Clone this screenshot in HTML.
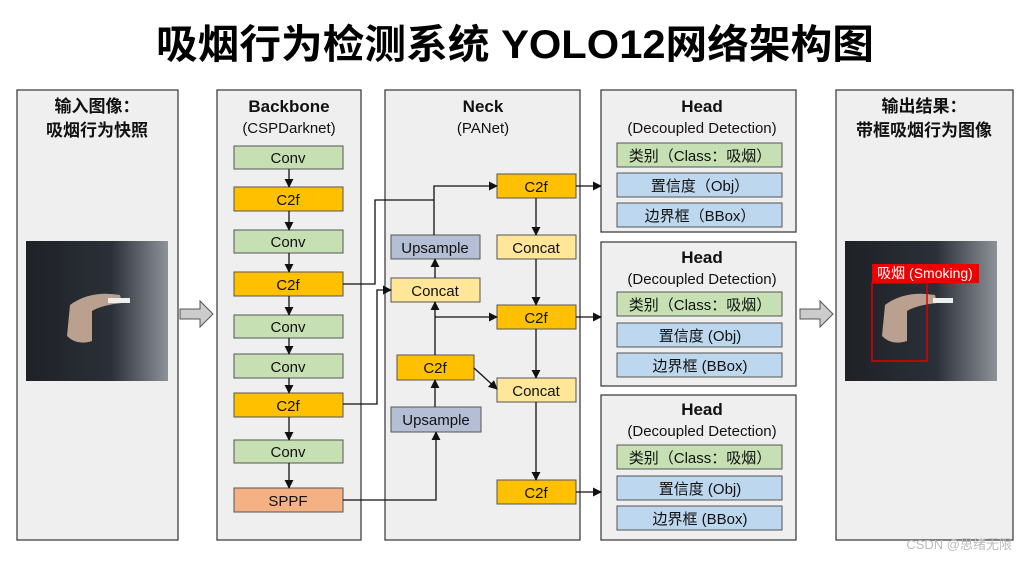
<!DOCTYPE html>
<html><head><meta charset="utf-8"><style>
body{margin:0;background:#fff;}
svg text{font-family:"Liberation Sans","Noto Sans CJK SC",sans-serif;}
</style></head><body>
<svg width="1024" height="559" viewBox="0 0 1024 559" xmlns="http://www.w3.org/2000/svg">
<defs>
<marker id="a" viewBox="0 0 10 10" refX="9" refY="5" markerWidth="7" markerHeight="7" orient="auto"><path d="M0,0 L10,5 L0,10 z" fill="#111"/></marker>
<linearGradient id="bg1" x1="0" x2="1"><stop offset="0" stop-color="#1e2126"/><stop offset="0.6" stop-color="#2b3038"/><stop offset="1" stop-color="#8d9299"/></linearGradient>
</defs>
<rect width="1024" height="559" fill="#fff"/>
<text x="515" y="58" font-size="40" font-weight="bold" text-anchor="middle" textLength="718" lengthAdjust="spacingAndGlyphs" fill="#000">吸烟行为检测系统 YOLO12网络架构图</text>

<g fill="#efefef" stroke="#333" stroke-width="1.2">
<rect x="17" y="90" width="161" height="450"/>
<rect x="217" y="90" width="144" height="450"/>
<rect x="385" y="90" width="195" height="450"/>
<rect x="601" y="90" width="195" height="142"/>
<rect x="601" y="242" width="195" height="144"/>
<rect x="601" y="395" width="195" height="145"/>
<rect x="836" y="90" width="177" height="450"/>
</g>

<g font-weight="bold" font-size="17" text-anchor="middle" fill="#111">
<text x="97" y="112">输入图像：</text>
<text x="97" y="136">吸烟行为快照</text>
<text x="289" y="112">Backbone</text>
<text x="483" y="112">Neck</text>
<text x="702" y="112">Head</text>
<text x="702" y="263">Head</text>
<text x="702" y="415">Head</text>
<text x="924" y="112">输出结果：</text>
<text x="924" y="136">带框吸烟行为图像</text>
</g>
<g font-size="15" text-anchor="middle" fill="#111">
<text x="289" y="133">(CSPDarknet)</text>
<text x="483" y="133">(PANet)</text>
<text x="702" y="133">(Decoupled Detection)</text>
<text x="702" y="284">(Decoupled Detection)</text>
<text x="702" y="436">(Decoupled Detection)</text>
</g>

<!-- images -->
<rect x="26" y="241" width="142" height="140" fill="url(#bg1)"/>
<path d="M70,305 q20,-15 50,-10 l2,8 q-20,2 -30,8 l0,30 q-15,5 -25,-5 z" fill="#b9a08f"/>
<rect x="108" y="298" width="22" height="5" fill="#eee"/>
<rect x="845" y="241" width="152" height="140" fill="url(#bg1)"/>
<path d="M885,305 q20,-15 50,-10 l2,8 q-20,2 -30,8 l0,30 q-15,5 -25,-5 z" fill="#b9a08f"/>
<rect x="933" y="298" width="20" height="5" fill="#eee"/>
<rect x="872" y="283" width="55" height="78" fill="none" stroke="#d00" stroke-width="1.5"/>
<rect x="872" y="264" width="107" height="19" fill="#e00"/>
<text x="925" y="278" font-size="14" fill="#fff" text-anchor="middle">吸烟 (Smoking)</text>

<!-- big arrows -->
<path d="M180,309 h20 v-8 l13,13 l-13,13 v-8 h-20 z" fill="#ccc" stroke="#555"/>
<path d="M800,309 h20 v-8 l13,13 l-13,13 v-8 h-20 z" fill="#ccc" stroke="#555"/>

<!-- backbone boxes -->
<g stroke="#555" stroke-width="1">
<rect x="234" y="146" width="109" height="23" fill="#c6e0b4"/>
<rect x="234" y="187" width="109" height="24" fill="#ffc000"/>
<rect x="234" y="230" width="109" height="23" fill="#c6e0b4"/>
<rect x="234" y="272" width="109" height="24" fill="#ffc000"/>
<rect x="234" y="315" width="109" height="23" fill="#c6e0b4"/>
<rect x="234" y="354" width="109" height="24" fill="#c6e0b4"/>
<rect x="234" y="393" width="109" height="24" fill="#ffc000"/>
<rect x="234" y="440" width="109" height="23" fill="#c6e0b4"/>
<rect x="234" y="488" width="109" height="24" fill="#f4b183"/>
<!-- neck -->
<rect x="497" y="174" width="79" height="24" fill="#ffc000"/>
<rect x="391" y="235" width="89" height="24" fill="#b4bfd6"/>
<rect x="497" y="235" width="79" height="24" fill="#ffe699"/>
<rect x="391" y="278" width="89" height="24" fill="#ffe699"/>
<rect x="497" y="305" width="79" height="24" fill="#ffc000"/>
<rect x="397" y="355" width="77" height="25" fill="#ffc000"/>
<rect x="497" y="378" width="79" height="24" fill="#ffe699"/>
<rect x="391" y="407" width="90" height="25" fill="#b4bfd6"/>
<rect x="497" y="480" width="79" height="24" fill="#ffc000"/>
<!-- heads -->
<rect x="617" y="143" width="165" height="24" fill="#c6e0b4"/>
<rect x="617" y="173" width="165" height="24" fill="#bdd7ee"/>
<rect x="617" y="203" width="165" height="24" fill="#bdd7ee"/>
<rect x="617" y="292" width="165" height="24" fill="#c6e0b4"/>
<rect x="617" y="323" width="165" height="24" fill="#bdd7ee"/>
<rect x="617" y="353" width="165" height="24" fill="#bdd7ee"/>
<rect x="617" y="445" width="165" height="24" fill="#c6e0b4"/>
<rect x="617" y="476" width="165" height="24" fill="#bdd7ee"/>
<rect x="617" y="506" width="165" height="24" fill="#bdd7ee"/>
</g>
<g font-size="15" text-anchor="middle" fill="#111">
<text x="288" y="163">Conv</text>
<text x="288" y="205">C2f</text>
<text x="288" y="247">Conv</text>
<text x="288" y="290">C2f</text>
<text x="288" y="332">Conv</text>
<text x="288" y="372">Conv</text>
<text x="288" y="411">C2f</text>
<text x="288" y="457">Conv</text>
<text x="288" y="506">SPPF</text>
<text x="536" y="192">C2f</text>
<text x="435" y="253">Upsample</text>
<text x="536" y="253">Concat</text>
<text x="435" y="296">Concat</text>
<text x="536" y="323">C2f</text>
<text x="435" y="373">C2f</text>
<text x="536" y="396">Concat</text>
<text x="436" y="425">Upsample</text>
<text x="536" y="498">C2f</text>
<text x="700" y="161">类别（Class：吸烟）</text>
<text x="700" y="191">置信度（Obj）</text>
<text x="700" y="221">边界框（BBox）</text>
<text x="700" y="310">类别（Class：吸烟）</text>
<text x="700" y="341">置信度 (Obj)</text>
<text x="700" y="371">边界框 (BBox)</text>
<text x="700" y="463">类别（Class：吸烟）</text>
<text x="700" y="494">置信度 (Obj)</text>
<text x="700" y="524">边界框 (BBox)</text>
</g>

<g stroke="#111" stroke-width="1.3" fill="none" marker-end="url(#a)">
<line x1="289" y1="169" x2="289" y2="187"/>
<line x1="289" y1="211" x2="289" y2="230"/>
<line x1="289" y1="253" x2="289" y2="272"/>
<line x1="289" y1="296" x2="289" y2="315"/>
<line x1="289" y1="338" x2="289" y2="354"/>
<line x1="289" y1="378" x2="289" y2="393"/>
<line x1="289" y1="417" x2="289" y2="440"/>
<line x1="289" y1="463" x2="289" y2="488"/>
<polyline points="434,235 434,186 497,186"/>
<polyline points="343,404 377,404 377,290 391,290"/>
<polyline points="343,500 436,500 436,432"/>
<line x1="435" y1="407" x2="435" y2="380"/>
<line x1="435" y1="355" x2="435" y2="302"/>
<line x1="435" y1="278" x2="435" y2="259"/>
<polyline points="435,317 497,317"/>
<line x1="474" y1="368" x2="497" y2="389"/>
<line x1="536" y1="198" x2="536" y2="235"/>
<line x1="536" y1="259" x2="536" y2="305"/>
<line x1="536" y1="329" x2="536" y2="378"/>
<line x1="536" y1="402" x2="536" y2="480"/>
<line x1="576" y1="186" x2="601" y2="186"/>
<line x1="576" y1="317" x2="601" y2="317"/>
<line x1="576" y1="492" x2="601" y2="492"/>
</g>
<polyline points="343,284 375,284 375,200 434,200" stroke="#111" stroke-width="1.3" fill="none"/>
<text x="1012" y="549" font-size="13" fill="#bbb" text-anchor="end">CSDN @思绪无限</text>
</svg>
</body></html>
